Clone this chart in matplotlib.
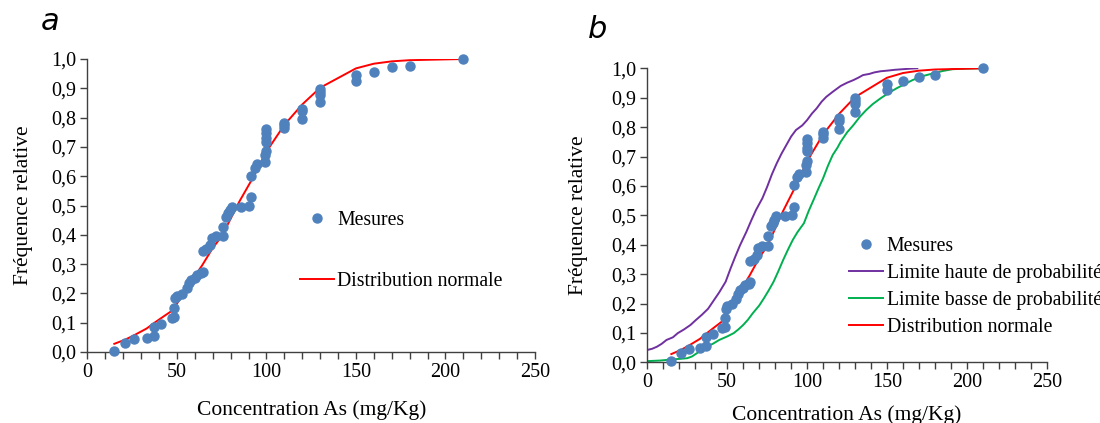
import matplotlib
matplotlib.use("Agg")
from matplotlib import pyplot as plt
from matplotlib.ticker import MultipleLocator, FuncFormatter

plt.rcParams['font.family'] = ['Liberation Serif', 'DejaVu Serif']

# measured points (concentration, relative frequency)
mes_x = [15, 21, 26, 33, 37, 37, 41, 47, 48.5, 48.5, 49, 50, 53, 55.5, 56.5, 58, 60, 61,
         63.5, 64.5, 64.5, 66.5, 68.5, 69.5, 72, 75.5, 75.5, 77.5, 78.5, 79.5, 80.5, 86,
         90.5, 91.5, 91.5, 93.5, 95, 99, 99, 100, 100, 100, 100, 100, 110, 110, 110,
         120, 120, 120, 130, 130, 130, 130, 150, 150, 160, 170, 180, 210]
mes_y = [0.005, 0.03, 0.045, 0.049, 0.055, 0.086, 0.095, 0.115, 0.12, 0.149, 0.183, 0.19,
         0.197, 0.217, 0.234, 0.245, 0.253, 0.263, 0.268, 0.272, 0.346, 0.35, 0.365, 0.388,
         0.395, 0.396, 0.428, 0.462, 0.473, 0.485, 0.496, 0.496, 0.5, 0.528, 0.602, 0.629,
         0.64, 0.647, 0.672, 0.686, 0.718, 0.73, 0.746, 0.761, 0.763, 0.775, 0.783, 0.794,
         0.822, 0.83, 0.852, 0.877, 0.888, 0.898, 0.925, 0.945, 0.956, 0.972, 0.976, 1.0]

# normal distribution curve
norm_x = [15, 21, 26, 33, 37, 41, 47, 50, 55, 60, 64, 70, 75, 80, 85, 92, 100, 110,
          120, 130, 150, 160, 170, 180, 210]
norm_y = [0.028, 0.042, 0.057, 0.08, 0.098, 0.115, 0.14, 0.165, 0.212, 0.26, 0.295, 0.355,
          0.395, 0.455, 0.515, 0.59, 0.684, 0.775, 0.845, 0.902, 0.968, 0.984, 0.992,
          0.996, 1.0]

# upper probability limit
haut_x = [0, 3, 6, 9, 12, 16, 19, 23, 27, 30, 34, 38, 41, 45, 49, 52, 55, 58, 62, 65,
          68, 72, 75, 78, 81, 84, 87, 90, 93, 97, 100, 103, 106, 109, 112, 116, 121, 125,
          129, 132, 135, 139, 142, 146, 150, 155, 160, 165, 169]
haut_y = [0.042, 0.046, 0.053, 0.063, 0.076, 0.085, 0.099, 0.112, 0.127, 0.142, 0.161,
          0.182, 0.206, 0.238, 0.274, 0.318, 0.359, 0.398, 0.444, 0.482, 0.518, 0.558,
          0.597, 0.64, 0.677, 0.71, 0.739, 0.768, 0.79, 0.806, 0.824, 0.846, 0.864, 0.886,
          0.903, 0.92, 0.94, 0.951, 0.96, 0.968, 0.977, 0.981, 0.986, 0.99, 0.992, 0.995,
          0.997, 0.999, 1.0]

# lower probability limit
basse_x = [0, 8, 16, 21, 25, 28, 31, 34, 37, 41, 45, 50, 54, 57, 60, 63, 66, 70, 73,
           76, 79, 82, 85, 88, 91, 94, 98, 101, 104, 107, 110, 113, 116, 119, 121, 125,
           129, 133, 137, 141, 146, 151, 156, 161, 166, 172, 179, 185, 191, 200, 208]
basse_y = [0.004, 0.006, 0.01, 0.012, 0.014, 0.02, 0.031, 0.041, 0.053, 0.063, 0.076,
           0.088, 0.099, 0.112, 0.127, 0.145, 0.167, 0.193, 0.218, 0.245, 0.274, 0.31,
           0.348, 0.383, 0.416, 0.443, 0.473, 0.515, 0.552, 0.59, 0.626, 0.668, 0.705,
           0.73, 0.75, 0.782, 0.807, 0.835, 0.858, 0.878, 0.898, 0.916, 0.932, 0.946,
           0.96, 0.973, 0.983, 0.991, 0.997, 0.999, 1.0]

blue = '#4F81BD'
red = '#FF0000'
purple = '#7030A0'
green = '#00B050'

fig = plt.figure(figsize=(11, 4.23), dpi=100)
ax1 = fig.add_axes([0.0795, 0.1678, 0.4068, 0.6927])
ax2 = fig.add_axes([0.5885, 0.1435, 0.3631, 0.6950])

comma = FuncFormatter(lambda v, p: f'{v:.1f}'.replace('.', ','))


def style(ax, xpad, ypad):
    ax.set_xlim(0, 250)
    ax.set_ylim(0, 1.0)
    ax.xaxis.set_major_locator(MultipleLocator(50))
    ax.xaxis.set_minor_locator(MultipleLocator(10))
    ax.yaxis.set_major_locator(MultipleLocator(0.1))
    ax.yaxis.set_major_formatter(comma)
    for s in ['top', 'right']:
        ax.spines[s].set_visible(False)
    for s in ['left', 'bottom']:
        ax.spines[s].set_color('#404040')
        ax.spines[s].set_linewidth(1.0)
    ax.tick_params(which='both', direction='out', length=5, width=1.0,
                   color='#404040', labelsize=14.5, pad=3)
    ax.set_xlabel('Concentration As (mg/Kg)', fontsize=15.5, labelpad=xpad)
    ax.set_ylabel('Fréquence relative', fontsize=15.5, labelpad=ypad)


# panel a
ax1.plot(mes_x, mes_y, 'o', color=blue, ms=6.5, label='Mesures', clip_on=False, zorder=3)
ax1.plot(norm_x, norm_y, color=red, lw=1.4, label='Distribution normale', zorder=2)
style(ax1, 13, 13)
ax1.legend(loc='center left', bbox_to_anchor=(0.475, 0.345), frameon=False,
           fontsize=14.2, labelspacing=2.1, handlelength=1.7, handletextpad=0.2,
           borderpad=0, borderaxespad=0)

# panel b
ax2.plot(mes_x, mes_y, 'o', color=blue, ms=6.5, label='Mesures', clip_on=False, zorder=4)
ax2.plot(haut_x, haut_y, color=purple, lw=1.4, label='Limite haute de probabilité')
ax2.plot(basse_x, basse_y, color=green, lw=1.4, label='Limite basse de probabilité')
ax2.plot(norm_x, norm_y, color=red, lw=1.4, label='Distribution normale', zorder=3)
style(ax2, 9, 17)
ax2.legend(loc='center left', bbox_to_anchor=(0.505, 0.2554), frameon=False,
           fontsize=14.2, labelspacing=0.4, handlelength=1.7, handletextpad=0.2,
           borderpad=0, borderaxespad=0)

fig.text(50 / 1100, 1 - 22 / 423, 'a', fontsize=22, style='italic',
         family='DejaVu Sans', ha='center', va='center')
fig.text(598 / 1100, 1 - 30 / 423, 'b', fontsize=22, style='italic',
         family='DejaVu Sans', ha='center', va='center')

fig.savefig('out.png', dpi=100)
